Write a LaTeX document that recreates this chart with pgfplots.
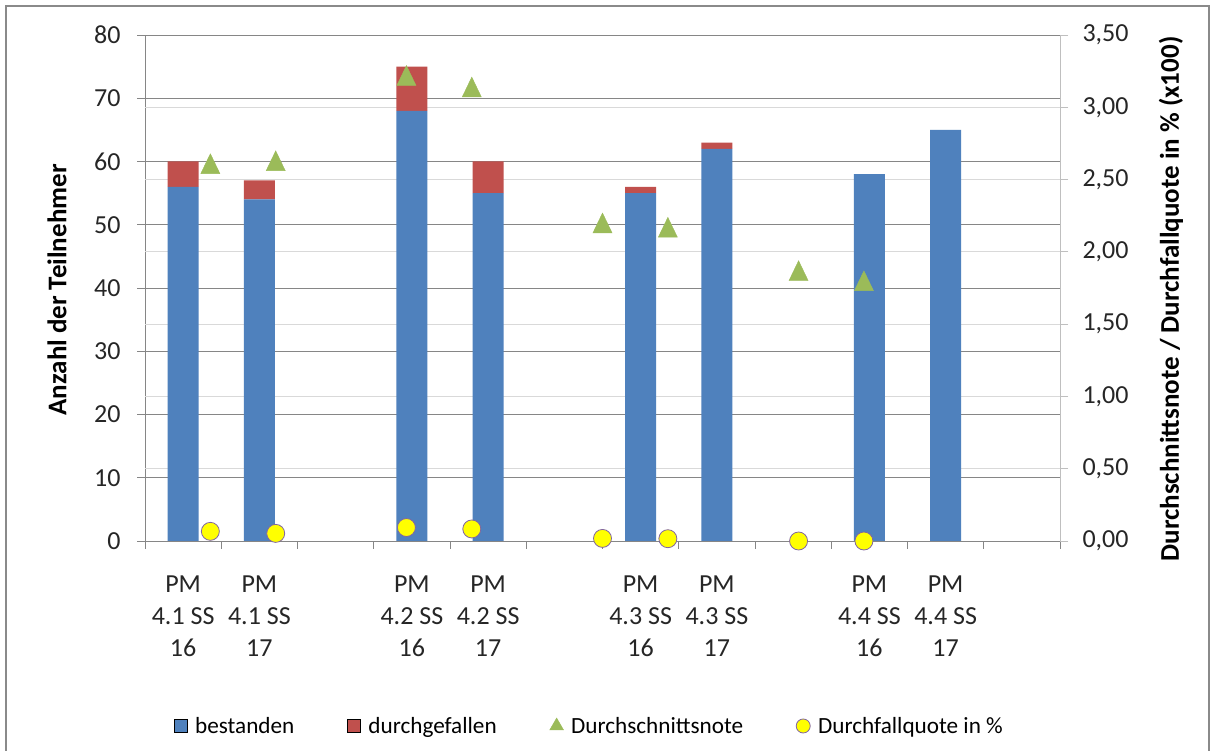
\documentclass[border=0pt]{standalone}
\usepackage{pgfplots}
\pgfplotsset{compat=1.18}
\usepackage{fontspec}
\setmainfont{Carlito}

\definecolor{barblue}{HTML}{4F81BD}
\definecolor{barred}{HTML}{C0504D}
\definecolor{notegreen}{HTML}{9BBB59}
\definecolor{quoteyellow}{HTML}{FFFF00}
\definecolor{quoteedge}{HTML}{8064A2}
\definecolor{gridmain}{HTML}{868686}
\definecolor{gridsec}{HTML}{D9D9D9}
\definecolor{axissec}{HTML}{BFBFBF}
\definecolor{chartframe}{HTML}{8A8A8A}

\newcommand{\chartfont}{\fontsize{26}{32}\selectfont}
\newcommand{\titlefont}{\fontsize{27}{32}\selectfont}
\newcommand{\legendfont}{\fontsize{23.2}{28}\selectfont}

\begin{document}
\begin{tikzpicture}[x=1pt,y=1pt]
\useasboundingbox[fill=white] (0,0) rectangle (1215,751);
\draw[chartframe, line width=2pt] (6,0) -- (6,745) -- (1209,745) -- (1209,0);

% Teilnehmerzahlen (linke Achse)
\begin{axis}[
  at={(145pt,210pt)}, anchor=south west,
  scale only axis, width=915pt, height=506pt,
  xmin=-0.5, xmax=11.5, ymin=0, ymax=80,
  ybar stacked, bar width=31pt,
  axis x line*=bottom, axis y line*=left,
  axis line style={gridmain, -},
  tick align=outside, major tick length=8pt,
  tick style={gridmain, line width=0.8pt},
  xtick={-0.5,0.5,...,11.5}, xticklabels={},
  extra x ticks={0,1,3,4,6,7,9,10},
  extra x tick labels={{PM\\4.1 SS\\16},{PM\\4.1 SS\\17},{PM\\4.2 SS\\16},{PM\\4.2 SS\\17},{PM\\4.3 SS\\16},{PM\\4.3 SS\\17},{PM\\4.4 SS\\16},{PM\\4.4 SS\\17}},
  extra x tick style={major tick length=0pt,
    xticklabel style={align=center, font=\chartfont, text=black!85, yshift=-31pt}},
  ytick={0,10,...,80},
  yticklabel style={font=\chartfont, text=black!85, xshift=-13pt},
  /pgf/number format/assume math mode=true,
  ymajorgrids, major grid style={gridmain, line width=0.8pt},
  extra y ticks={11.428571,22.857143,34.285714,45.714286,57.142857,68.571429},
  extra y tick labels={},
  extra y tick style={major tick length=0pt, major grid style={gridsec, line width=1pt}},
  clip=false,
]
\addplot[fill=barblue, draw=none] coordinates {(0,56) (1,54) (3,68) (4,55) (6,55) (7,62) (9,58) (10,65)};
\addplot[fill=barred, draw=none] coordinates {(0,4) (1,3) (3,7) (4,5) (6,1) (7,1) (9,0) (10,0)};
\end{axis}

% Durchschnittsnote und Durchfallquote (rechte Achse)
\begin{axis}[
  at={(145pt,210pt)}, anchor=south west,
  scale only axis, width=915pt, height=506pt,
  xmin=0, xmax=14, ymin=0, ymax=3.5,
  axis x line=none, axis y line*=right,
  axis line style={axissec, -},
  tick align=outside, major tick length=8pt,
  tick style={axissec, line width=0.8pt},
  ytick={0,0.5,1,1.5,2,2.5,3,3.5},
  yticklabel style={font=\chartfont, text=black!85, xshift=11pt},
  /pgf/number format/.cd, fixed, fixed zerofill, precision=2, use comma, assume math mode=true,
  /pgfplots/.cd,
  clip=false,
  legend columns=4,
  legend style={at={(0.4858,-0.3656)}, anchor=center, draw=none, fill=none,
    font=\legendfont, text=black,
    /tikz/every even column/.append style={column sep=51pt}},
  legend image code/.code={\draw[#1] plot coordinates {(0pt,0pt)}; \path (12.5pt,0pt);},
]
\addplot[only marks, mark=triangle*, mark size=11pt, color=notegreen,
  mark options={yscale=1.2, yshift=-2.75pt}, forget plot]
  coordinates {(1,2.61) (2,2.63) (4,3.22) (5,3.14) (7,2.20) (8,2.17) (10,1.87) (11,1.80)};
\addplot[only marks, mark=*, mark size=9pt, fill=quoteyellow, draw=quoteedge,
  line width=0.8pt, forget plot]
  coordinates {(1,0.0667) (2,0.0526) (4,0.0933) (5,0.0833) (7,0.0179) (8,0.0159) (10,0) (11,0)};
\addlegendimage{only marks, mark=square*, mark size=6.5pt, fill=barblue, draw=none}
\addlegendentry{bestanden}
\addlegendimage{only marks, mark=square*, mark size=6.5pt, fill=barred, draw=none}
\addlegendentry{durchgefallen}
\addlegendimage{only marks, mark=triangle*, mark size=8pt, color=notegreen, draw=none}
\addlegendentry{Durchschnittsnote}
\addlegendimage{only marks, mark=*, mark size=7pt, fill=quoteyellow, draw=quoteedge, line width=0.8pt}
\addlegendentry{Durchfallquote in \%}
\end{axis}

\node[rotate=90, font=\bfseries\titlefont] at (57,461) {Anzahl der Teilnehmer};
\node[rotate=90, font=\bfseries\titlefont] at (1171,452) {Durchschnittsnote / Durchfallquote in \% (x100)};
\end{tikzpicture}
\end{document}
